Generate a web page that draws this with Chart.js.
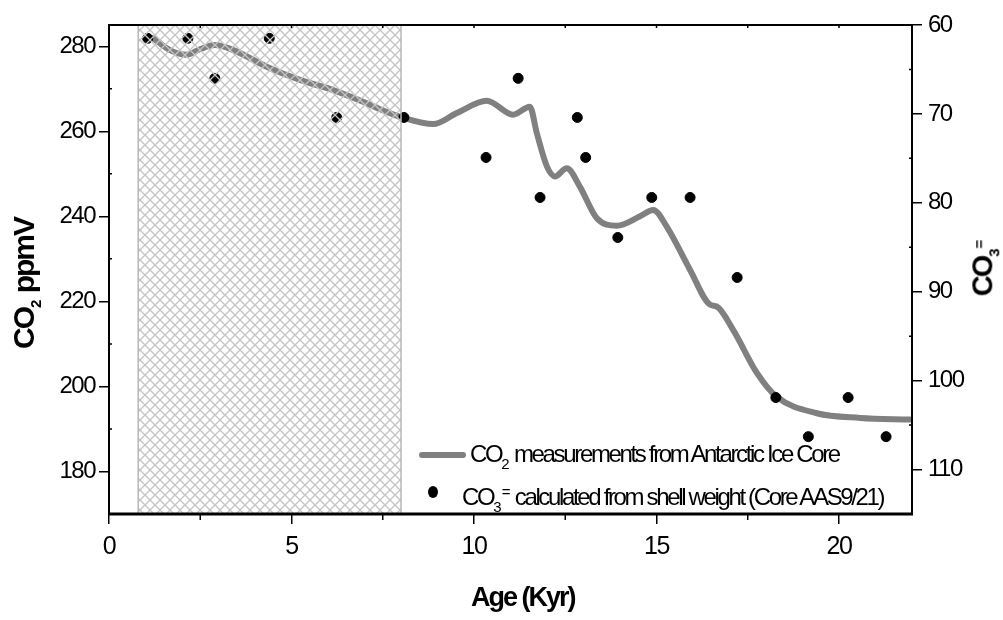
<!DOCTYPE html>
<html>
<head>
<meta charset="utf-8">
<script src="https://cdn.jsdelivr.net/npm/chart.js@4.4.1/dist/chart.umd.min.js"></script>
<style>
  html, body { margin: 0; padding: 0; background: #fff; }
  #wrap { position: relative; width: 1003px; height: 620px; font-family: "Liberation Sans Narrow", "Arial Narrow", "Liberation Sans", sans-serif; color: #000; }
  canvas { position: absolute; left: 0; top: 0; }
  .lbl { position: absolute; white-space: nowrap; }
  .title { font-weight: bold; font-size: 27px; letter-spacing: -2px; }
  .leg { font-size: 24px; letter-spacing: -2.35px; line-height: 30px; }
  sub, sup { font-size: 15px; letter-spacing: 0; }
  sub { vertical-align: -7px; }
  sup { vertical-align: 8px; }
</style>
</head>
<body>
<div id="wrap">
  <canvas id="grafico" width="1003" height="620"></canvas>

  <div class="lbl title" id="xTitle" style="left:471px; top:582px;">Age (Kyr)</div>
  <div class="lbl title" id="yTitle" style="left:-40px; top:265px; font-size:30px; transform: rotate(-90deg);">CO<sub>2</sub> ppmV</div>
  <div class="lbl title" id="y1Title" style="left:956px; top:250px; font-size:29px; transform: rotate(-90deg);">CO<sub>3</sub><sup>=</sup></div>

  <div class="lbl" style="left:419px; top:452px; width:47px; height:6px; background:#808080; border-radius:3px;"></div>
  <div class="lbl leg" style="left:470px; top:439px;">CO<sub>2</sub> measurements from Antarctic Ice Core</div>
  <div class="lbl" style="left:428px; top:486px; width:10px; height:12px; background:#000; border-radius:50%;"></div>
  <div class="lbl leg" style="left:462px; top:477px;">CO<sub>3</sub><sup>=</sup> calculated from shell weight (Core AAS9/21)</div>
</div>
<script>
// Curva de CO2 (testemunho de gelo)
const idadeCurva = [1.21, 1.67, 2.13, 2.49, 2.9, 3.41, 4.32, 5.23, 6.14, 7.06, 7.42, 8.08, 8.88, 9.53, 10.35, 11.07, 11.53, 11.72, 12.0, 12.22, 12.54, 12.9, 13.36, 13.91, 14.55, 14.91, 15.28, 15.92, 16.47, 16.65, 17.1, 17.75, 18.29, 19.39, 20.58, 21.95];
const co2Curva = [281.9, 279.1, 278.0, 279.3, 280.3, 279.1, 275.2, 272.1, 269.7, 266.6, 265.2, 263.1, 261.7, 264.3, 267.2, 263.9, 265.8, 259.6, 251.7, 249.4, 251.3, 247.0, 239.6, 237.8, 240.0, 241.5, 237.6, 227.4, 219.2, 218.8, 213.3, 203.2, 197.6, 193.7, 192.6, 192.2];

// CO3= calculado pelo peso das conchas
const idadeConchas = [1.06, 2.16, 2.9, 4.39, 6.24, 8.08, 10.33, 11.21, 11.81, 12.83, 13.06, 13.94, 14.87, 15.92, 17.21, 18.27, 19.16, 20.25, 21.29];
const co3Conchas = [61.5, 61.5, 66.0, 61.5, 70.4, 70.4, 74.9, 66.0, 79.4, 70.4, 74.9, 83.9, 79.4, 79.4, 88.4, 101.9, 106.3, 101.9, 106.3];

// Eixos
const ticksX = [0, 5, 10, 15, 20];
const ticksXMenores = [2.5, 7.5, 12.5, 17.5];
const ticksTopo = [2.5, 5, 7.5, 10, 12.5, 15, 17.5, 20];
const ticksCO2 = [180, 200, 220, 240, 260, 280];
const ticksCO2Menores = [190, 210, 230, 250, 270];
const ticksCO3 = [60, 70, 80, 90, 100, 110];
const ticksCO3Menores = [65, 75, 85, 95, 105];

// Intervalo hachurado (Holoceno)
const faixaHachurada = [0.8, 8.0];

const fonte = "'Liberation Sans Narrow', 'Arial Narrow', 'Liberation Sans', sans-serif";

function criaPadrao() {
  const c = document.createElement("canvas");
  c.width = 10; c.height = 10;
  const g = c.getContext("2d");
  g.strokeStyle = "#c4c4c4";
  g.lineWidth = 1.3;
  g.beginPath();
  g.moveTo(0, 0); g.lineTo(10, 10);
  g.moveTo(10, 0); g.lineTo(0, 10);
  g.stroke();
  return g.createPattern(c, "repeat");
}

// texto dos ticks mais apertado, como no original
const espacamento = {
  id: "espacamento",
  beforeUpdate(chart) { chart.ctx.letterSpacing = "-1.5px"; },
  beforeDraw(chart) { chart.ctx.letterSpacing = "-1.5px"; }
};

const hachura = {
  id: "hachura",
  afterDatasetsDraw(chart) {
    const { ctx, chartArea, scales } = chart;
    const x0 = scales.x.getPixelForValue(faixaHachurada[0]);
    const x1 = scales.x.getPixelForValue(faixaHachurada[1]);
    ctx.save();
    ctx.fillStyle = criaPadrao();
    ctx.fillRect(x0, chartArea.top, x1 - x0, chartArea.bottom - chartArea.top);
    ctx.strokeStyle = "#b8b8b8";
    ctx.lineWidth = 1.5;
    ctx.strokeRect(x0, chartArea.top, x1 - x0, chartArea.bottom - chartArea.top);
    ctx.restore();
  }
};

const moldura = {
  id: "moldura",
  afterDraw(chart) {
    const { ctx, chartArea: a, scales } = chart;
    ctx.save();
    ctx.strokeStyle = "#000";
    ctx.lineWidth = 2;
    ctx.beginPath();
    ctx.moveTo(a.left, a.bottom); ctx.lineTo(a.left, a.top);
    ctx.lineTo(a.right, a.top); ctx.lineTo(a.right, a.bottom);
    ctx.stroke();
    ctx.lineWidth = 3;
    ctx.beginPath();
    ctx.moveTo(a.left - 1, a.bottom); ctx.lineTo(a.right + 1, a.bottom);
    ctx.stroke();

    ctx.lineWidth = 1.5;
    ctx.beginPath();
    ticksXMenores.forEach(v => {
      const p = scales.x.getPixelForValue(v);
      ctx.moveTo(p, a.bottom); ctx.lineTo(p, a.bottom + 6);
    });
    ticksTopo.forEach(v => {
      const p = scales.x.getPixelForValue(v);
      ctx.moveTo(p, a.top); ctx.lineTo(p, a.top + 3);
    });
    ticksCO2Menores.forEach(v => {
      const p = scales.y.getPixelForValue(v);
      ctx.moveTo(a.left, p); ctx.lineTo(a.left + 3, p);
    });
    ticksCO3Menores.forEach(v => {
      const p = scales.y1.getPixelForValue(v);
      ctx.moveTo(a.right, p); ctx.lineTo(a.right - 3, p);
    });
    ctx.stroke();
    ctx.restore();
  }
};

function fixaTicks(lista) {
  return function (scale) {
    scale.ticks = lista.map(v => ({ value: v }));
  };
}

const gradeEixo = {
  drawOnChartArea: false,
  drawTicks: true,
  tickLength: 10,
  color: "#000",
  lineWidth: 1.5
};

new Chart(document.getElementById("grafico").getContext("2d"), {
  type: "line",
  data: {
    datasets: [
      {
        label: "CO2 measurements from Antarctic Ice Core",
        data: idadeCurva.map((x, i) => ({ x: x, y: co2Curva[i] })),
        yAxisID: "y",
        borderColor: "#808080",
        borderWidth: 6,
        pointRadius: 0,
        cubicInterpolationMode: "monotone",
        borderCapStyle: "round",
        order: 2
      },
      {
        label: "CO3= calculated from shell weight (Core AAS9/21)",
        type: "scatter",
        data: idadeConchas.map((x, i) => ({ x: x, y: co3Conchas[i] })),
        yAxisID: "y1",
        backgroundColor: "#000",
        borderColor: "#000",
        pointRadius: 5,
        pointStyle: "circle",
        order: 1
      }
    ]
  },
  options: {
    responsive: false,
    animation: false,
    devicePixelRatio: 1,
    layout: { padding: { top: 25, left: 0, right: 0, bottom: 0 } },
    plugins: {
      legend: { display: false },
      tooltip: { enabled: false }
    },
    scales: {
      x: {
        type: "linear",
        min: 0,
        max: 22,
        afterBuildTicks: fixaTicks(ticksX),
        afterFit: (s) => { s.height = 106; },
        grid: gradeEixo,
        border: { display: false },
        ticks: { color: "#000", padding: 8, font: { family: fonte, size: 25 } }
      },
      y: {
        type: "linear",
        position: "left",
        min: 170,
        max: 285,
        afterBuildTicks: fixaTicks(ticksCO2),
        afterFit: (s) => { s.width = 109; },
        grid: gradeEixo,
        border: { display: false },
        ticks: { color: "#000", padding: 4, font: { family: fonte, size: 24 } }
      },
      y1: {
        type: "linear",
        position: "right",
        reverse: true,
        min: 60,
        max: 115,
        afterBuildTicks: fixaTicks(ticksCO3),
        afterFit: (s) => { s.width = 91; },
        grid: gradeEixo,
        border: { display: false },
        ticks: { color: "#000", padding: 6, font: { family: fonte, size: 24 } }
      }
    }
  },
  plugins: [espacamento, hachura, moldura]
});
</script>
</body>
</html>
